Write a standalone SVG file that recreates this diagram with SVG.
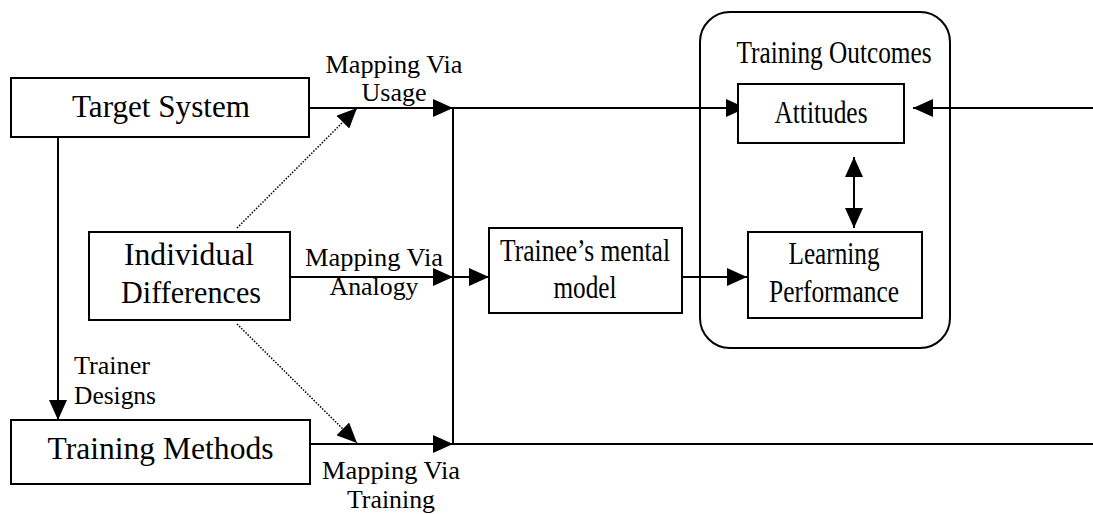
<svg xmlns="http://www.w3.org/2000/svg" width="1093" height="514" viewBox="0 0 1093 514">
<style>
.box{fill:#fff;stroke:#000;stroke-width:2}
.ln{fill:none;stroke:#000;stroke-width:2}
.dot{fill:none;stroke:#000;stroke-width:1.5;stroke-dasharray:1.5 1.5}
.t{font-size:32px}
.s{font-size:25px}
</style>
<defs>
<marker id="ah" markerUnits="userSpaceOnUse" markerWidth="20" markerHeight="18" refX="20" refY="9" orient="auto-start-reverse">
<path d="M0,0 L20,9 L0,18 Z" fill="#000"/>
</marker>
</defs>
<rect width="1093" height="514" fill="#fff"/>
<g font-family="Liberation Serif, Times New Roman, serif" fill="#000" text-anchor="middle">
<g id="outcomes">
<rect class="box" x="700" y="12" width="250" height="336" rx="30" ry="30" fill="none"/>
<text class="t" x="834" y="63" textLength="195" lengthAdjust="spacingAndGlyphs">Training Outcomes</text>
</g>
<g id="connectors">
<line class="ln" x1="58" y1="137" x2="58" y2="420" marker-end="url(#ah)"/>
<line class="ln" x1="309" y1="108" x2="453" y2="108" marker-end="url(#ah)"/>
<line class="ln" x1="453" y1="108" x2="746" y2="108" marker-end="url(#ah)"/>
<line class="ln" x1="1093" y1="108" x2="913" y2="108" marker-end="url(#ah)"/>
<line class="ln" x1="453" y1="107" x2="453" y2="445"/>
<line class="ln" x1="290" y1="277" x2="453" y2="277" marker-end="url(#ah)"/>
<line class="ln" x1="453" y1="277" x2="489" y2="277" marker-end="url(#ah)"/>
<line class="ln" x1="682" y1="277" x2="747" y2="277" marker-end="url(#ah)"/>
<line class="ln" x1="307" y1="444" x2="453" y2="444" marker-end="url(#ah)"/>
<line class="ln" x1="453" y1="444" x2="1093" y2="444"/>
<line class="ln" x1="854" y1="157" x2="854" y2="228" marker-start="url(#ah)" marker-end="url(#ah)"/>
<line class="dot" x1="237" y1="228" x2="357" y2="108" marker-end="url(#ah)"/>
<line class="dot" x1="237" y1="324" x2="357" y2="443" marker-end="url(#ah)"/>
</g>
<g id="target-system">
<rect class="box" x="11" y="78" width="298" height="59"/>
<text class="t" x="161" y="117" textLength="178" lengthAdjust="spacingAndGlyphs">Target System</text>
</g>
<g id="training-methods">
<rect class="box" x="11" y="420" width="299" height="64"/>
<text class="t" x="160.5" y="459" textLength="226" lengthAdjust="spacingAndGlyphs">Training Methods</text>
</g>
<g id="individual-differences">
<rect class="box" x="89" y="232" width="201" height="88"/>
<text class="t" x="189" y="265" textLength="130" lengthAdjust="spacingAndGlyphs">Individual</text>
<text class="t" x="191" y="303" textLength="140" lengthAdjust="spacingAndGlyphs">Differences</text>
</g>
<g id="mental-model">
<rect class="box" x="489" y="228" width="193" height="85"/>
<text class="t" x="585" y="261" textLength="170" lengthAdjust="spacingAndGlyphs">Trainee’s mental</text>
<text class="t" x="585" y="298" textLength="63" lengthAdjust="spacingAndGlyphs">model</text>
</g>
<g id="attitudes">
<rect class="box" x="738" y="84" width="166" height="59"/>
<text class="t" x="821" y="123" textLength="93" lengthAdjust="spacingAndGlyphs">Attitudes</text>
</g>
<g id="learning-performance">
<rect class="box" x="748" y="232" width="174" height="86"/>
<text class="t" x="834" y="264" textLength="91" lengthAdjust="spacingAndGlyphs">Learning</text>
<text class="t" x="834" y="302" textLength="130" lengthAdjust="spacingAndGlyphs">Performance</text>
</g>
<g id="labels">
<text class="s" x="394" y="73" textLength="137" lengthAdjust="spacingAndGlyphs">Mapping Via</text>
<text class="s" x="394" y="101" textLength="65" lengthAdjust="spacingAndGlyphs">Usage</text>
<text class="s" x="374" y="266" textLength="138" lengthAdjust="spacingAndGlyphs">Mapping Via</text>
<text class="s" x="374" y="295" textLength="89" lengthAdjust="spacingAndGlyphs">Analogy</text>
<text class="s" text-anchor="start" x="74" y="374" textLength="76" lengthAdjust="spacingAndGlyphs">Trainer</text>
<text class="s" text-anchor="start" x="74" y="404" textLength="82" lengthAdjust="spacingAndGlyphs">Designs</text>
<text class="s" text-anchor="start" x="322" y="479" textLength="138" lengthAdjust="spacingAndGlyphs">Mapping Via</text>
<text class="s" text-anchor="start" x="347" y="508" textLength="88" lengthAdjust="spacingAndGlyphs">Training</text>
</g>
</g>
</svg>
